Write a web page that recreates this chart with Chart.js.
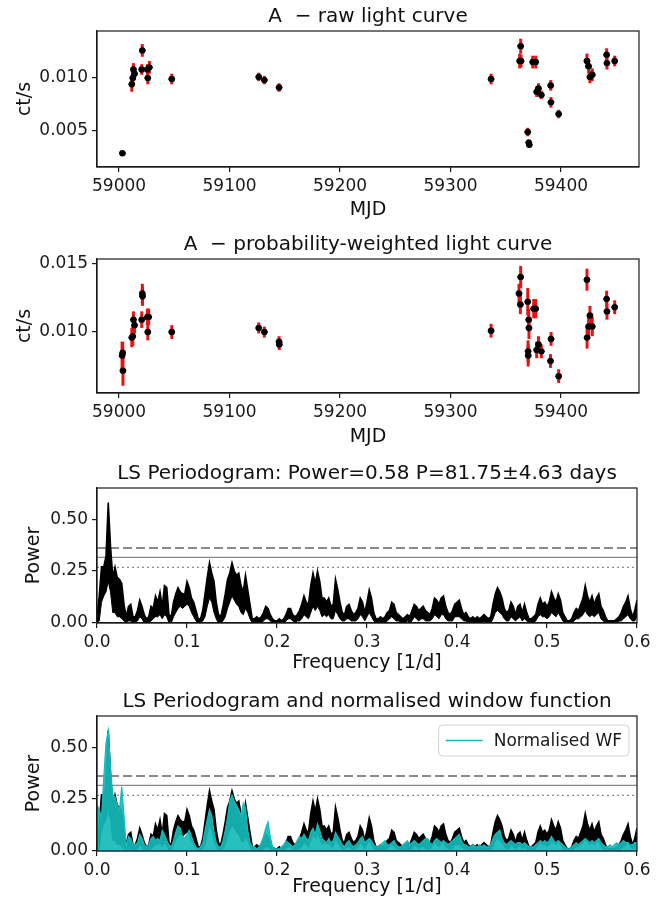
<!DOCTYPE html>
<html>
<head>
<meta charset="utf-8">
<script src="https://cdn.jsdelivr.net/npm/chart.js@4.4.1/dist/chart.umd.min.js"></script>
<style>
  body { margin: 0; background: #fff; }
  #wrap { position: relative; width: 671px; height: 906px; }
  canvas { position: absolute; left: 0; }
</style>
</head>
<body>
<div id="wrap">
  <canvas id="raw" width="671" height="228" style="top:0px"></canvas>
  <canvas id="weighted" width="671" height="228" style="top:228px"></canvas>
  <canvas id="ls" width="671" height="224" style="top:456px"></canvas>
  <canvas id="lswf" width="671" height="226" style="top:680px"></canvas>
</div>
<script>
Chart.defaults.font.family = "'DejaVu Sans', sans-serif";
Chart.defaults.color = '#1a1a1a';
Chart.defaults.animation = false;

// raw light curve of A
const rawMjd = [59003, 59011.5, 59012.4, 59013, 59014, 59020.5, 59021, 59025.6, 59026, 59027.4,
  59047.7, 59126.4, 59131.5, 59144.8, 59336.7, 59362.6, 59363.5, 59363.8, 59369.9, 59370.8,
  59371.3, 59374.4, 59377.1, 59378, 59379.6, 59382.2, 59390.7, 59390.9, 59397.9, 59423.5,
  59425, 59426.2, 59428.3, 59441.3, 59441.6, 59448.6];
const rawRate = [0.0029, 0.0094, 0.0100, 0.0108, 0.0104, 0.0108, 0.0126, 0.0108, 0.0100, 0.0110,
  0.0099, 0.0101, 0.0098, 0.0091, 0.0099, 0.0116, 0.0130, 0.0116, 0.0049, 0.0039,
  0.0037, 0.0115, 0.0115, 0.0087, 0.0090, 0.0084, 0.0093, 0.0077, 0.0066, 0.0116,
  0.0111, 0.0101, 0.0103, 0.0122, 0.0114, 0.0116];
const rawErr = [0.0002, 0.0007, 0.0007, 0.0006, 0.0006, 0.0005, 0.0006, 0.0005, 0.0006, 0.0006,
  0.0005, 0.0004, 0.0004, 0.0004, 0.0005, 0.0007, 0.0007, 0.0006, 0.0004, 0.0003,
  0.0003, 0.0006, 0.0006, 0.0005, 0.0005, 0.0004, 0.0005, 0.0005, 0.0004, 0.0007,
  0.0007, 0.0006, 0.0006, 0.0006, 0.0006, 0.0005];

// probability-weighted light curve of A
const pwMjd = [59002.7, 59003.3, 59003.5, 59011.5, 59012.4, 59013, 59014, 59020.5, 59021, 59021.2,
  59025.6, 59026, 59026.8, 59047.7, 59126.4, 59131.5, 59144.8, 59145, 59336.7, 59362,
  59363.5, 59363.2, 59369.9, 59370.8, 59371, 59370.2, 59370.3, 59375.3, 59377.1, 59378,
  59379.6, 59382.2, 59391, 59390.5, 59397.9, 59423.5, 59423.6, 59425, 59426.2, 59428.3,
  59441.3, 59441.6, 59448.6];
const pwRate = [0.0083, 0.0085, 0.0072, 0.0096, 0.0097, 0.0109, 0.0105, 0.0109, 0.0128, 0.0126,
  0.0111, 0.0100, 0.0111, 0.0100, 0.0103, 0.0100, 0.0093, 0.0091, 0.0101, 0.0128,
  0.0140, 0.0120, 0.0122, 0.0109, 0.0103, 0.0086, 0.0083, 0.0117, 0.0117, 0.0087,
  0.0091, 0.0086, 0.0095, 0.0079, 0.0068, 0.0138, 0.0096, 0.0104, 0.0112, 0.0104,
  0.0124, 0.0115, 0.0118];
const pwErr = [0.0010, 0.0008, 0.0011, 0.0007, 0.0007, 0.0006, 0.0006, 0.0006, 0.0007, 0.0007,
  0.0006, 0.0006, 0.0006, 0.0005, 0.0004, 0.0004, 0.0004, 0.0004, 0.0005, 0.0007,
  0.0008, 0.0007, 0.0010, 0.0008, 0.0008, 0.0008, 0.0008, 0.0007, 0.0007, 0.0006,
  0.0006, 0.0005, 0.0005, 0.0005, 0.0005, 0.0008, 0.0008, 0.0007, 0.0007, 0.0007,
  0.0006, 0.0006, 0.0005];
const mjdErr = 3;

const mjdTicks = [59000, 59100, 59200, 59300, 59400];
const rawRateTicks = [0.005, 0.010];
const pwRateTicks = [0.010, 0.015];
const freqTicks = [0, 0.1, 0.2, 0.3, 0.4, 0.5, 0.6];
const powerTicks = [0, 0.25, 0.5];

// LS periodogram, sampled every 0.0025 1/d from 0 to 0.6 (upper / lower edge of the trace)
const fStep = 0.0025;
const lsUpper = [
  0.03, 0.13, 0.27, 0.27, 0.32, 0.58, 0.37, 0.22, 0.27, 0.22, 0.21, 0.19, 0.09, 0.03, 0.08, 0.09, 0.03, 0.03, 0.06, 0.11,
  0.08, 0.04, 0.02, 0.03, 0.08, 0.07, 0.13, 0.10, 0.15, 0.08, 0.18, 0.17, 0.04, 0.03, 0.10, 0.14, 0.17, 0.15, 0.14, 0.14,
  0.20, 0.17, 0.12, 0.10, 0.06, 0.02, 0.02, 0.06, 0.14, 0.22, 0.29, 0.24, 0.20, 0.10, 0.04, 0.03, 0.08, 0.14, 0.21, 0.24,
  0.29, 0.25, 0.23, 0.24, 0.18, 0.15, 0.23, 0.16, 0.09, 0.02, 0.02, 0.03, 0.02, 0.03, 0.05, 0.08, 0.07, 0.04, 0.02, 0.01,
  0.01, 0.02, 0.01, 0.02, 0.04, 0.07, 0.07, 0.04, 0.03, 0.04, 0.06, 0.09, 0.13, 0.10, 0.09, 0.18, 0.24, 0.19, 0.25, 0.20,
  0.12, 0.12, 0.10, 0.12, 0.08, 0.09, 0.21, 0.16, 0.10, 0.05, 0.04, 0.08, 0.09, 0.06, 0.04, 0.05, 0.07, 0.12, 0.10, 0.05,
  0.10, 0.16, 0.12, 0.05, 0.02, 0.02, 0.03, 0.02, 0.03, 0.05, 0.06, 0.10, 0.09, 0.05, 0.04, 0.03, 0.02, 0.03, 0.04, 0.03,
  0.06, 0.09, 0.08, 0.06, 0.07, 0.08, 0.06, 0.05, 0.04, 0.07, 0.12, 0.11, 0.09, 0.12, 0.13, 0.08, 0.05, 0.04, 0.06, 0.09,
  0.10, 0.11, 0.07, 0.04, 0.05, 0.03, 0.02, 0.03, 0.02, 0.03, 0.02, 0.03, 0.04, 0.03, 0.02, 0.03, 0.09, 0.14, 0.17, 0.15,
  0.12, 0.07, 0.05, 0.06, 0.10, 0.08, 0.04, 0.08, 0.09, 0.05, 0.09, 0.05, 0.02, 0.02, 0.03, 0.04, 0.09, 0.12, 0.09, 0.10,
  0.08, 0.10, 0.15, 0.12, 0.10, 0.14, 0.11, 0.05, 0.03, 0.01, 0.01, 0.02, 0.05, 0.07, 0.06, 0.09, 0.12, 0.18, 0.13, 0.10,
  0.13, 0.09, 0.12, 0.14, 0.08, 0.06, 0.03, 0.01, 0.01, 0.01, 0.01, 0.02, 0.03, 0.05, 0.08, 0.10, 0.13, 0.07, 0.03, 0.06,
  0.11];
const lsLower = [
  0.00, 0.01, 0.10, 0.13, 0.15, 0.20, 0.15, 0.05, 0.05, 0.03, 0.03, 0.02, 0.01, 0.00, 0.01, 0.01, 0.00, 0.00, 0.01, 0.03,
  0.02, 0.00, 0.00, 0.00, 0.01, 0.02, 0.03, 0.03, 0.04, 0.02, 0.04, 0.03, 0.00, 0.00, 0.03, 0.05, 0.07, 0.08, 0.07, 0.08,
  0.09, 0.08, 0.05, 0.03, 0.01, 0.00, 0.00, 0.01, 0.03, 0.08, 0.12, 0.10, 0.05, 0.02, 0.00, 0.00, 0.01, 0.03, 0.07, 0.10,
  0.13, 0.11, 0.09, 0.08, 0.05, 0.04, 0.07, 0.05, 0.02, 0.00, 0.00, 0.00, 0.00, 0.00, 0.01, 0.02, 0.02, 0.01, 0.00, 0.00,
  0.00, 0.00, 0.00, 0.00, 0.01, 0.02, 0.02, 0.01, 0.00, 0.01, 0.01, 0.02, 0.04, 0.03, 0.02, 0.05, 0.08, 0.06, 0.08, 0.06,
  0.03, 0.04, 0.03, 0.04, 0.02, 0.02, 0.06, 0.04, 0.02, 0.01, 0.01, 0.02, 0.02, 0.01, 0.01, 0.01, 0.02, 0.04, 0.03, 0.01,
  0.03, 0.05, 0.03, 0.01, 0.00, 0.00, 0.00, 0.00, 0.00, 0.01, 0.02, 0.03, 0.02, 0.01, 0.01, 0.00, 0.00, 0.00, 0.01, 0.00,
  0.01, 0.03, 0.02, 0.01, 0.02, 0.02, 0.01, 0.01, 0.01, 0.02, 0.04, 0.03, 0.02, 0.04, 0.04, 0.02, 0.01, 0.01, 0.01, 0.03,
  0.03, 0.03, 0.02, 0.01, 0.01, 0.00, 0.00, 0.00, 0.00, 0.00, 0.00, 0.00, 0.01, 0.00, 0.00, 0.00, 0.02, 0.05, 0.06, 0.05,
  0.04, 0.02, 0.01, 0.01, 0.03, 0.02, 0.01, 0.02, 0.03, 0.01, 0.02, 0.01, 0.00, 0.00, 0.00, 0.01, 0.03, 0.04, 0.03, 0.03,
  0.02, 0.03, 0.05, 0.04, 0.03, 0.05, 0.03, 0.01, 0.00, 0.00, 0.00, 0.00, 0.01, 0.02, 0.02, 0.03, 0.04, 0.06, 0.04, 0.03,
  0.04, 0.03, 0.04, 0.05, 0.02, 0.01, 0.00, 0.00, 0.00, 0.00, 0.00, 0.00, 0.01, 0.01, 0.02, 0.03, 0.04, 0.02, 0.01, 0.01,
  0.03];
// normalised window function, same frequency grid
const wfPower = [
  0.22, 0.20, 0.16, 0.35, 0.52, 0.58, 0.40, 0.27, 0.26, 0.22, 0.20, 0.31, 0.17, 0.02, 0.07, 0.06, 0.03, 0.03, 0.04, 0.08,
  0.06, 0.03, 0.02, 0.03, 0.06, 0.07, 0.05, 0.06, 0.05, 0.10, 0.08, 0.05, 0.03, 0.02, 0.05, 0.09, 0.12, 0.11, 0.07, 0.06,
  0.08, 0.10, 0.07, 0.04, 0.02, 0.01, 0.02, 0.04, 0.10, 0.15, 0.20, 0.17, 0.09, 0.04, 0.02, 0.02, 0.05, 0.10, 0.16, 0.24,
  0.27, 0.24, 0.22, 0.20, 0.17, 0.23, 0.21, 0.10, 0.04, 0.02, 0.02, 0.01, 0.02, 0.04, 0.07, 0.11, 0.14, 0.07, 0.02, 0.01,
  0.01, 0.01, 0.02, 0.03, 0.05, 0.04, 0.03, 0.02, 0.03, 0.05, 0.07, 0.06, 0.08, 0.06, 0.05, 0.09, 0.11, 0.08, 0.13, 0.10,
  0.06, 0.05, 0.04, 0.06, 0.04, 0.05, 0.09, 0.07, 0.05, 0.03, 0.02, 0.04, 0.05, 0.03, 0.02, 0.03, 0.04, 0.06, 0.07, 0.04,
  0.05, 0.06, 0.05, 0.03, 0.02, 0.02, 0.03, 0.04, 0.05, 0.03, 0.03, 0.04, 0.05, 0.03, 0.02, 0.02, 0.03, 0.04, 0.05, 0.03,
  0.04, 0.05, 0.04, 0.03, 0.04, 0.05, 0.06, 0.06, 0.04, 0.03, 0.05, 0.06, 0.05, 0.04, 0.05, 0.04, 0.03, 0.04, 0.05, 0.06,
  0.07, 0.08, 0.05, 0.03, 0.03, 0.02, 0.02, 0.03, 0.02, 0.02, 0.03, 0.02, 0.03, 0.02, 0.02, 0.03, 0.06, 0.08, 0.09, 0.10,
  0.06, 0.04, 0.03, 0.04, 0.05, 0.04, 0.03, 0.04, 0.04, 0.03, 0.04, 0.03, 0.02, 0.02, 0.02, 0.03, 0.04, 0.05, 0.04, 0.05,
  0.04, 0.05, 0.07, 0.05, 0.04, 0.05, 0.04, 0.03, 0.02, 0.01, 0.01, 0.02, 0.03, 0.04, 0.03, 0.04, 0.05, 0.06, 0.05, 0.04,
  0.05, 0.04, 0.05, 0.06, 0.04, 0.03, 0.02, 0.02, 0.03, 0.02, 0.03, 0.04, 0.03, 0.04, 0.05, 0.04, 0.04, 0.03, 0.03, 0.04,
  0.04];
// significance levels (dashed, solid, dotted)
const sigLevels = [0.361, 0.316, 0.268];

const toPts = (xs, ys) => xs.map((x, i) => ({x: x, y: ys[i]}));
const onGrid = ys => ys.map((y, i) => ({x: i * fStep, y: y}));

// red y error bars + small black x error bars, drawn under the markers
const errorBars = {
  id: 'errorBars',
  beforeDatasetsDraw(chart) {
    const {ctx} = chart;
    const xs = chart.scales.x, ys = chart.scales.y;
    ctx.save();
    chart.data.datasets.forEach(ds => {
      if (!ds.yErr) return;
      ctx.strokeStyle = 'rgb(228, 20, 20)';
      ctx.lineWidth = 3;
      ds.data.forEach((p, i) => {
        const px = xs.getPixelForValue(p.x);
        ctx.beginPath();
        ctx.moveTo(px, ys.getPixelForValue(p.y - ds.yErr[i]));
        ctx.lineTo(px, ys.getPixelForValue(p.y + ds.yErr[i]));
        ctx.stroke();
      });
      ctx.strokeStyle = '#000';
      ctx.lineWidth = 1.6;
      ds.data.forEach(p => {
        const py = ys.getPixelForValue(p.y);
        ctx.beginPath();
        ctx.moveTo(xs.getPixelForValue(p.x - mjdErr), py);
        ctx.lineTo(xs.getPixelForValue(p.x + mjdErr), py);
        ctx.stroke();
      });
    });
    ctx.restore();
  }
};

// axes box + panel title
const frame = {
  id: 'frame',
  afterDraw(chart, args, opts) {
    const {ctx, chartArea: a} = chart;
    ctx.save();
    ctx.strokeStyle = '#1a1a1a';
    ctx.lineWidth = 1.2;
    ctx.strokeRect(a.left, a.top, a.right - a.left, a.bottom - a.top);
    ctx.fillStyle = '#111';
    ctx.font = "20px 'DejaVu Sans'";
    ctx.textAlign = 'center';
    ctx.textBaseline = 'alphabetic';
    ctx.fillText(opts.title, (a.left + a.right) / 2, a.top - 9);
    ctx.restore();
  }
};

// matplotlib-like legend inside the upper right corner
const insideLegend = {
  id: 'insideLegend',
  afterDraw(chart) {
    const ds = chart.data.datasets.find(d => d.inLegend);
    if (!ds) return;
    const {ctx, chartArea: a} = chart;
    ctx.save();
    ctx.font = "17px 'DejaVu Sans'";
    const w = ctx.measureText(ds.label).width + 62, h = 31;
    const bx = a.right - 8 - w, by = a.top + 9;
    ctx.beginPath();
    ctx.roundRect(bx, by, w, h, 4);
    ctx.fillStyle = 'rgba(255,255,255,0.85)';
    ctx.fill();
    ctx.strokeStyle = '#d4d4d4';
    ctx.lineWidth = 1;
    ctx.stroke();
    ctx.strokeStyle = ds.borderColor;
    ctx.lineWidth = 1.6;
    ctx.beginPath();
    ctx.moveTo(bx + 7, by + h / 2);
    ctx.lineTo(bx + 44, by + h / 2);
    ctx.stroke();
    ctx.fillStyle = '#1a1a1a';
    ctx.textAlign = 'left';
    ctx.textBaseline = 'middle';
    ctx.fillText(ds.label, bx + 55, by + h / 2 + 1);
    ctx.restore();
  }
};

function xAxis(min, max, ticks, fmt, height, label, padBottom) {
  return {
    type: 'linear', position: 'bottom', min: min, max: max,
    afterBuildTicks: s => { s.ticks = ticks.map(v => ({value: v})); },
    afterFit: s => { s.height = height; },
    ticks: {callback: fmt, autoSkip: false, maxRotation: 0, padding: 4, font: {size: 17}},
    grid: {drawOnChartArea: false, drawTicks: true, tickLength: 5, color: '#1a1a1a', lineWidth: 1.2},
    border: {display: true, color: '#1a1a1a', width: 1.2},
    title: {display: true, text: label, color: '#111', font: {size: 19}, padding: {top: 0, bottom: padBottom}}
  };
}

function yAxis(min, max, ticks, fmt, label, padLeft) {
  return {
    type: 'linear', position: 'left', min: min, max: max,
    afterBuildTicks: s => { s.ticks = ticks.map(v => ({value: v})); },
    afterFit: s => { s.width = 97; },
    ticks: {callback: fmt, autoSkip: false, padding: 4, font: {size: 17}},
    grid: {drawOnChartArea: false, drawTicks: true, tickLength: 5, color: '#1a1a1a', lineWidth: 1.2},
    border: {display: true, color: '#1a1a1a', width: 1.2},
    title: {display: true, text: label, color: '#111', font: {size: 19}, padding: {top: padLeft, bottom: 0}}
  };
}

const fmtMjd = v => String(v);
const fmtRate = v => v.toFixed(3);
const fmtFreq = v => v.toFixed(1);
const fmtPow = v => v.toFixed(2);

function lightCurve(id, title, mjd, rate, err, yMin, yMax, yTicks, axisH, padTop, padBottom) {
  new Chart(document.getElementById(id), {
    type: 'scatter',
    data: {
      datasets: [{
        data: toPts(mjd, rate),
        yErr: err,
        pointRadius: 3.2,
        pointBackgroundColor: '#000',
        pointBorderWidth: 0
      }]
    },
    options: {
      responsive: false,
      events: [],
      layout: {padding: {top: padTop, right: 32, left: 0, bottom: 0}},
      plugins: {legend: {display: false}, tooltip: {enabled: false}, frame: {title: title}},
      scales: {
        x: xAxis(58980, 59470.6, mjdTicks, fmtMjd, axisH, 'MJD', padBottom),
        y: yAxis(yMin, yMax, yTicks, fmtRate, 'ct/s', 14)
      }
    },
    plugins: [errorBars, frame]
  });
}

lightCurve('raw', 'A  \u2212 raw light curve', rawMjd, rawRate, rawErr,
  0.0016, 0.01443, rawRateTicks, 61, 31, 6.6);
lightCurve('weighted', 'A  \u2212 probability-weighted light curve', pwMjd, pwRate, pwErr,
  0.00558, 0.0153, pwRateTicks, 63, 31, 7.6);

const levelStyles = [
  {borderDash: [9, 4], borderWidth: 2},
  {borderDash: [], borderWidth: 1.4},
  {borderDash: [2, 3], borderWidth: 1.3}
];
const levelSets = () => sigLevels.map((lvl, k) => Object.assign({
  data: [{x: 0, y: lvl}, {x: 0.6, y: lvl}],
  showLine: true, borderColor: '#8a8a8a', pointRadius: 0, order: 5
}, levelStyles[k]));

const lsSets = () => [
  {data: onGrid(lsLower), showLine: true, borderColor: '#000', borderWidth: 1, pointRadius: 0, fill: false, order: 2},
  {data: onGrid(lsUpper), showLine: true, borderColor: '#000', borderWidth: 1.6, pointRadius: 0,
    fill: '-1', backgroundColor: '#000', order: 1}
];

function periodogram(id, title, datasets, axisH, padTop, padBottom) {
  new Chart(document.getElementById(id), {
    type: 'scatter',
    data: {datasets: datasets},
    options: {
      responsive: false,
      events: [],
      layout: {padding: {top: padTop, right: 34, left: 0, bottom: 0}},
      plugins: {legend: {display: false}, tooltip: {enabled: false}, frame: {title: title}},
      scales: {
        x: xAxis(0, 0.6, freqTicks, fmtFreq, axisH, 'Frequency [1/d]', padBottom),
        y: yAxis(0, 0.65, powerTicks, fmtPow, 'Power', 23)
      }
    },
    plugins: [frame, insideLegend]
  });
}

periodogram('ls', 'LS Periodogram: Power=0.58 P=81.75\u00b14.63 days',
  lsSets().concat(levelSets()), 57, 32, 5.6);

periodogram('lswf', 'LS Periodogram and normalised window function',
  lsSets().concat([{
    label: 'Normalised WF', inLegend: true,
    data: onGrid(wfPower), showLine: true, borderColor: 'rgb(22, 186, 186)', borderWidth: 1.2,
    pointRadius: 0, fill: 'origin', backgroundColor: 'rgba(22, 186, 186, 0.92)', order: 0
  }]).concat(levelSets()), 55, 36, 7.6);
</script>
</body>
</html>
